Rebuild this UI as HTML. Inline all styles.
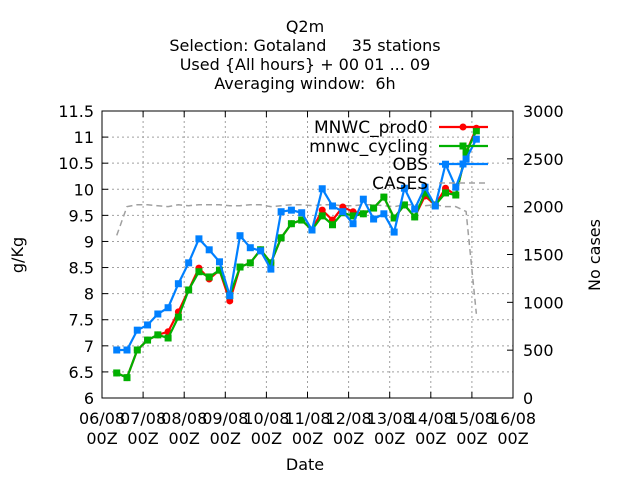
<!DOCTYPE html>
<html><head><meta charset="utf-8"><style>
body{margin:0;background:#fff}
svg{display:block;font-family:"DejaVu Sans","Liberation Sans",sans-serif}
</style></head><body>
<svg id="chart" width="640" height="480" xmlns="http://www.w3.org/2000/svg">
<rect width="640" height="480" fill="#fff"/>
<g font-size="16" text-anchor="middle" fill="#000">
<text x="305" y="32">Q2m</text>
<text x="305" y="51" xml:space="preserve">Selection: Gotaland     35 stations</text>
<text x="305" y="70">Used {All hours} + 00 01 ... 09</text>
<text x="305" y="89" xml:space="preserve">Averaging window:  6h</text>
</g>
<g id="grid"></g>
<g id="axes"></g>
<g id="series"></g>
<text x="305" y="470" font-size="16" text-anchor="middle">Date</text>
<text transform="translate(23,255) rotate(-90)" font-size="16" text-anchor="middle">g/Kg</text>
<text transform="translate(600,255) rotate(-90)" font-size="16" text-anchor="middle">No cases</text>
<g id="legend" font-size="17" text-anchor="end"></g>
</svg>
<script>
const xTickDays=[0,1,2,3,4,5,6,7,8,9,10];
const xTickLabels=["06/08","07/08","08/08","09/08","10/08","11/08","12/08","13/08","14/08","15/08","16/08"];
const yTicks=[6,6.5,7,7.5,8,8.5,9,9.5,10,10.5,11,11.5];
const y2Ticks=[0,500,1000,1500,2000,2500,3000];
const startHour=8.6, stepHour=6;
const prod0=[6.48,6.39,6.92,7.11,7.21,7.27,7.65,8.07,8.49,8.28,8.45,7.86,8.51,8.59,8.84,8.59,9.07,9.34,9.41,9.22,9.60,9.41,9.66,9.57,9.53,9.64,9.85,9.45,9.70,9.47,9.87,9.70,10.02,9.89,10.70,11.17];
const cycling=[6.48,6.39,6.92,7.11,7.21,7.15,7.55,8.07,8.42,8.32,8.45,7.96,8.51,8.59,8.84,8.59,9.07,9.34,9.41,9.22,9.49,9.32,9.55,9.49,9.53,9.64,9.85,9.45,9.70,9.47,9.93,9.70,9.93,9.89,10.70,11.12];
const obs=[6.92,6.92,7.30,7.40,7.61,7.73,8.19,8.59,9.05,8.84,8.61,7.96,9.11,8.88,8.82,8.47,9.57,9.60,9.55,9.22,10.01,9.68,9.57,9.34,9.81,9.43,9.53,9.18,10.02,9.62,10.04,9.68,10.48,10.04,10.58,10.96];
const cases=[1700,2000,2020,2020,2010,2000,2020,2010,2020,2020,2020,2010,2010,2020,2020,2000,2010,2020,2020,2010,2020,2020,2010,2010,2020,2020,2010,2000,2020,2020,2010,2020,2000,2000,1950,880];

const L=102,R=513,T=111,B=398,NS="http://www.w3.org/2000/svg";
const xd=d=>L+(R-L)*d/10;
const xh=h=>xd(h/24);
const y=v=>B-(B-T)*(v-6)/5.5;
const y2=v=>B-(B-T)*v/3000;
function mk(tag,attrs,parent){const e=document.createElementNS(NS,tag);for(const k in attrs)e.setAttribute(k,attrs[k]);parent.appendChild(e);return e;}
const grid=document.getElementById('grid'),axes=document.getElementById('axes'),series=document.getElementById('series'),legend=document.getElementById('legend');
xTickDays.forEach((d,i)=>{
  const X=xd(d);
  if(i>0&&i<xTickDays.length-1){const g=mk('line',{x1:X,x2:X,y1:T,y2:B,stroke:'#a0a0a0','stroke-dasharray':'2,3','stroke-width':1},grid);
  
  }
  mk('line',{x1:X,x2:X,y1:B,y2:B-6,stroke:'#000'},axes);
  mk('line',{x1:X,x2:X,y1:T,y2:T+6,stroke:'#000'},axes);
  const t=mk('text',{x:X,y:B+26,'font-size':16,'text-anchor':'middle'},axes);
  t.textContent=xTickLabels[i];
  
  
  const t2=mk('text',{x:X,y:B+46,'font-size':16,'text-anchor':'middle'},axes);
  t2.textContent='00Z';
  
  
});
yTicks.forEach((v,i)=>{
  const Y=y(v);
  if(i>0&&i<yTicks.length-1){const g=mk('line',{x1:L,x2:R,y1:Y,y2:Y,stroke:'#a0a0a0','stroke-dasharray':'2,3','stroke-width':1},grid);
  
  }
  mk('line',{x1:L,x2:L+6,y1:Y,y2:Y,stroke:'#000'},axes);
  const t=mk('text',{x:L-8,y:Y+6,'font-size':16,'text-anchor':'end'},axes);
  t.textContent=String(v);
  
  
});
y2Ticks.forEach(v=>{
  const Y=y2(v);
  mk('line',{x1:R,x2:R-6,y1:Y,y2:Y,stroke:'#000'},axes);
  const t=mk('text',{x:R+10,y:Y+6,'font-size':16,'text-anchor':'start'},axes);
  t.textContent=String(v);
  
  
});
const fr=mk('rect',{x:L,y:T,width:R-L,height:B-T,fill:'none',stroke:'#000','stroke-width':1},axes);



const xs=cases.map((_,k)=>xh(startHour+stepHour*k));
const cp=mk('polyline',{points:cases.map((v,k)=>xs[k]+','+y2(v)).join(' '),fill:'none',stroke:'#a0a0a0','stroke-width':1.5,'stroke-dasharray':'6,4'},series);


function draw(vals,color,name,shape){
  const g=mk('g',{},series);
  
  
  mk('polyline',{points:vals.map((v,k)=>xs[k]+','+y(v)).join(' '),fill:'none',stroke:color,'stroke-width':2.2},g);
  vals.forEach((v,k)=>{
    let m;
    if(shape==='circle')m=mk('circle',{cx:xs[k],cy:y(v),r:3.5,fill:color},g);
    else m=mk('rect',{x:xs[k]-3.5,y:y(v)-3.5,width:7,height:7,fill:color},g);
    
    
  });
}
draw(prod0,'#ff0000','mnwc-prod0','circle');
draw(cycling,'#00b000','mnwc-cycling','square');
draw(obs,'#0080ff','obs','square');

const leg=[["MNWC_prod0",'#ff0000','circle',127],["mnwc_cycling",'#00b000','square',146],["OBS",'#0080ff','square',164],["CASES",'#a0a0a0','dash',183]];
leg.forEach(e=>{
  const g=mk('g',{},legend);
  
  
  const t=mk('text',{x:428,y:e[3]+6},g);
  t.textContent=e[0];
  if(e[2]==='dash'){mk('line',{x1:439,x2:488,y1:e[3],y2:e[3],stroke:e[1],'stroke-width':1.5,'stroke-dasharray':'6,4'},g);}
  else{
    mk('line',{x1:439,x2:488,y1:e[3],y2:e[3],stroke:e[1],'stroke-width':2.2},g);
    if(e[2]==='circle')mk('circle',{cx:463,cy:e[3],r:3.5,fill:e[1]},g);
    else mk('rect',{x:459.5,y:e[3]-3.5,width:7,height:7,fill:e[1]},g);
  }
});
</script>
</body></html>
